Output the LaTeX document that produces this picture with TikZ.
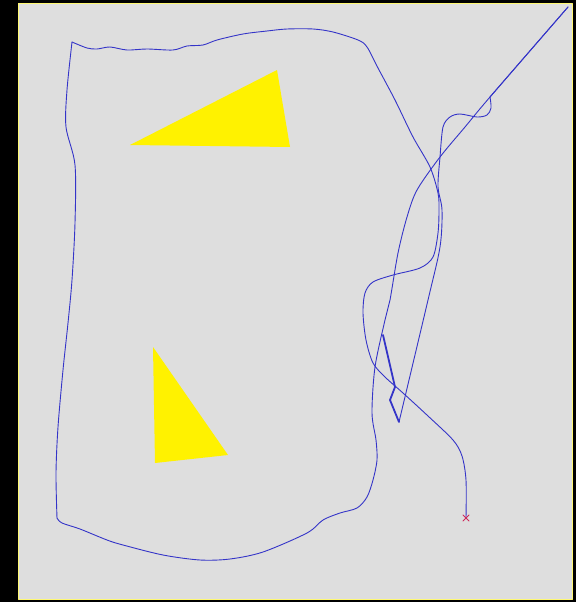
\documentclass[tikz,border=0pt]{standalone}
\definecolor{floor}{RGB}{222,222,222}
\definecolor{track}{RGB}{52,52,200}
\definecolor{goal}{RGB}{205,40,90}
\begin{document}
\begin{tikzpicture}[x=1pt, y=-1pt, line cap=round, line join=round]
  % Frame coordinates
  \coordinate (O) at (0, 0);
  \coordinate (W) at (576, 602);
  \coordinate (F0) at (18, 4);
  \coordinate (F1) at (572, 599);

  % Obstacle corners
  \coordinate (A) at (130, 145);
  \coordinate (B) at (277, 70);
  \coordinate (C) at (290, 147);
  \coordinate (D) at (153, 347);
  \coordinate (E) at (155, 463);
  \coordinate (G) at (228, 455);

  % Track corners
  \coordinate (S) at (466, 518);
  \coordinate (K1) at (72, 42);
  \coordinate (K2) at (57, 518);
  \coordinate (K3) at (568, 7);
  \coordinate (K4) at (490, 97);
  \coordinate (K5) at (399, 422);

  % Background
  \useasboundingbox (O) rectangle (W);
  \fill[black] (O) rectangle (W);
  \fill[floor, draw=yellow!55, line width=1pt] (F0) rectangle (F1);

  % Obstacles
  \fill[yellow] (A) -- (B) -- (C) -- cycle;
  \fill[yellow] (D) -- (E) -- (G) -- cycle;

  % Track (thin)
  \draw[track, line width=0.9pt] plot[smooth, tension=0.5] coordinates {
    (S) (466,480) (462,456) (453,440) (428,416) (403,393) (385,377)
    (373,363) (366,340) (363,313) (365,293) (373,282) (393,275) (420,268)
    (433,257) (438,233) (439,210) (438,193) (430,167) (413,137) (395,100)
    (378,68) (367,47) (358,40) (333,32) (313,29) (287,29) (267,31) (243,34)
    (217,40) (203,45) (187,46) (173,50) (147,49) (127,50) (110,47) (97,49)
    (87,48) (K1)};
  \draw[track, line width=0.9pt] plot[smooth, tension=0.5] coordinates {
    (K1) (67,90) (66,127) (75,165) (75,223) (72,280) (68,323) (63,370)
    (58,427) (56,473) (K2)};
  \draw[track, line width=0.9pt] plot[smooth, tension=0.5] coordinates {
    (K2) (62,523) (80,529) (107,540) (123,545) (163,555) (200,560) (230,559)
    (263,552) (307,533) (323,520) (340,513) (357,508) (367,497) (373,480)
    (377,460) (376,440) (372,413) (375,367) (385,320) (390,300) (398,253)
    (407,217) (417,190) (440,157) (465,127) (K4) (K3)};
  \draw[track, line width=0.9pt] (K3) -- (K4);
  \draw[track, line width=0.9pt] plot[smooth, tension=0.5] coordinates {
    (K4) (491,108) (487,115) (477,117) (460,114) (450,117) (443,127)
    (440,157) (438,187) (442,210) (440,247) (428,300) (K5)};

  % Track (last part)
  \draw[track, line width=1.8pt] (K5) -- (390,400) -- (395,387) -- (383,335);

  % Start mark
  \draw[goal, line width=0.8pt] (S) +(-3,-3) -- +(3,3)
    (S) +(-3,3) -- +(3,-3);
\end{tikzpicture}
\end{document}
